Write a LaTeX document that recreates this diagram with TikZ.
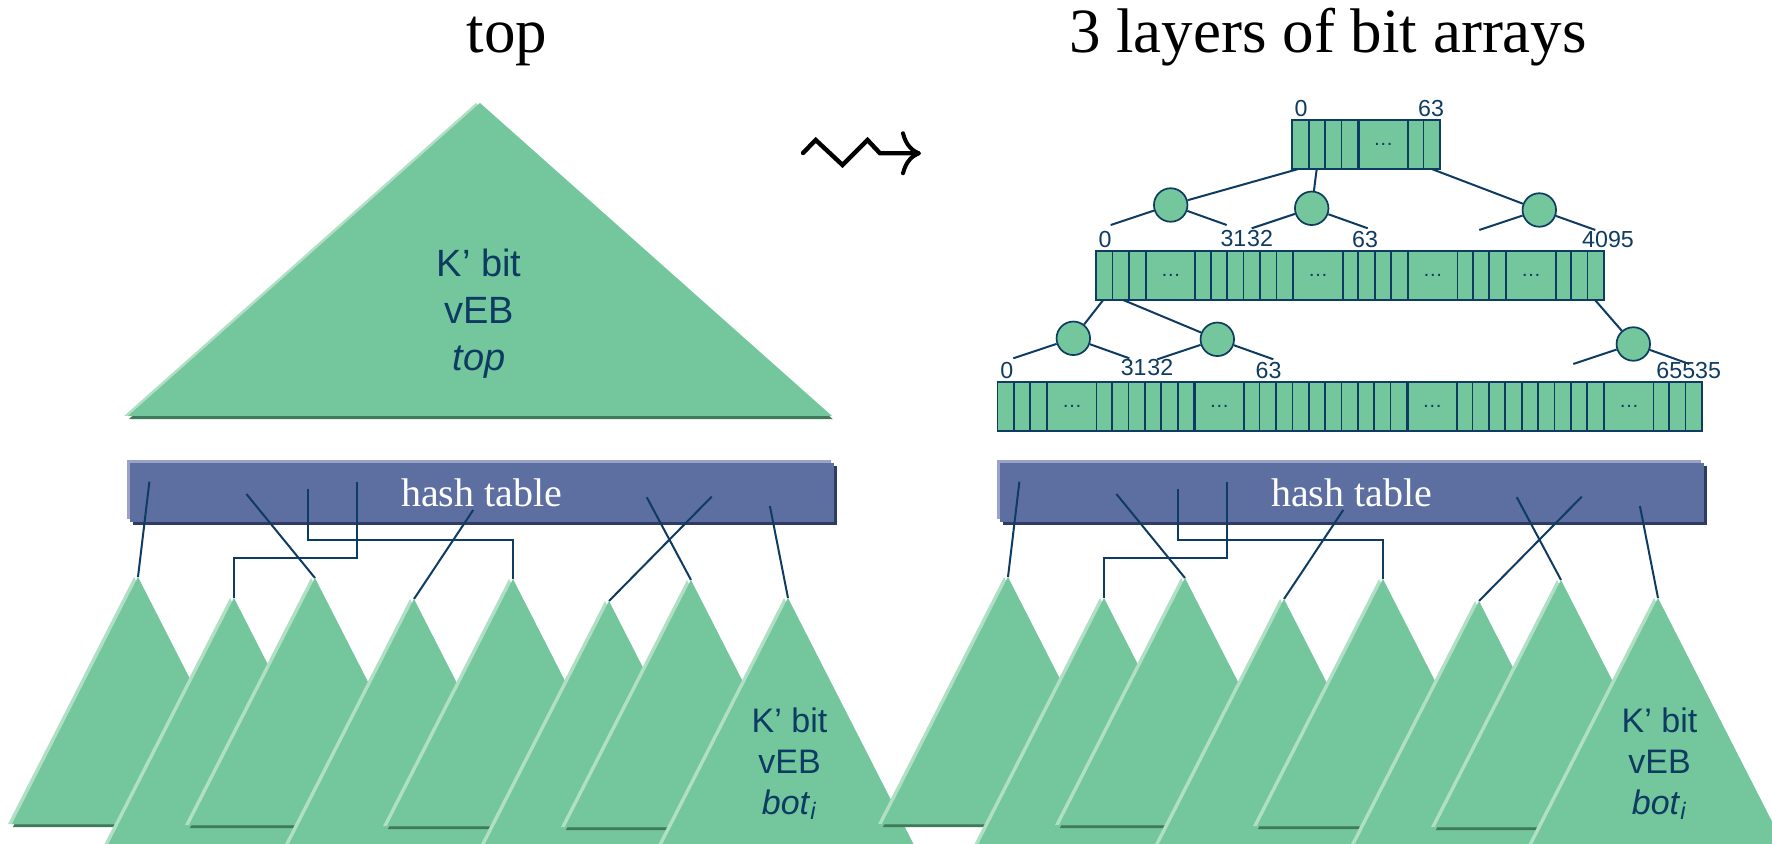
\documentclass[tikz,border=0pt]{standalone}
\usepackage{fontspec}
\setmainfont{Liberation Serif}
\setsansfont{Liberation Sans}
\usetikzlibrary{arrows.meta,calc,shadows}
\definecolor{vebgreen}{HTML}{74C69D}
\definecolor{veblight}{HTML}{B0DFC5}
\definecolor{vebdark}{HTML}{3F7A5A}
\definecolor{navy}{HTML}{0D3B62}
\definecolor{hashblue}{HTML}{5D6FA0}
\definecolor{hashlight}{HTML}{9CA1C8}
\definecolor{hashdark}{HTML}{2E3B62}
\tikzset{link/.style={navy, line width=1pt},
  tri/.style={fill=vebgreen, general shadow={fill=vebdark, shadow xshift=0.4pt, shadow yshift=-1.6pt},
    general shadow={fill=veblight, shadow xshift=-2pt}},
  hashbox/.style={fill=hashblue, minimum width=352.25pt, minimum height=29.5pt, inner sep=0pt, outer sep=0pt,
    text=white, font=\fontsize{20}{24}\selectfont,
    general shadow={fill=hashdark, shadow xshift=1.5pt, shadow yshift=-1.4pt},
    general shadow={fill=hashlight, shadow xshift=-1.4pt, shadow yshift=1.5pt}},
  bits/.style={draw=navy, line width=0.85pt, fill=vebgreen, minimum height=24.5pt, inner sep=0pt, outer sep=0pt, anchor=north west},
  gap/.style={draw=navy, line width=0.85pt, fill=vebgreen, minimum width=24.57pt, minimum height=24.5pt,
    inner sep=0pt, anchor=west, text=navy, font=\sffamily\fontsize{10}{10}\selectfont},
  num/.style={text=navy, font=\sffamily\fontsize{11.6}{12}\selectfont, inner sep=0pt, anchor=base},
  knot/.style={circle, draw=navy, line width=0.85pt, fill=vebgreen, minimum size=16.75pt, inner sep=0pt},
  veb/.style={text=navy, align=center, inner sep=0pt}}
% vertical cell lines of a bit array
\newcommand\cellsplit[2]{%
  \foreach \i in {1,...,#2}
    \draw[link, line width=0.85pt] ($(#1.north west)+(\i*16.38,0)$) -- ($(#1.south west)+(\i*16.38,0)$);}

\begin{document}
\begin{tikzpicture}[x=0.5pt, y=-0.5pt]
  \useasboundingbox (0,0) rectangle (1772,844);
  \node[font=\fontsize{31.5}{36}\selectfont, anchor=base] (title-top) at (507,53) {top};
  \node[font=\fontsize{31.5}{36}\selectfont, anchor=base] (title-bits) at (1328,53) {3 layers of bit arrays};
  \draw[line width=2.2pt, line cap=round, -{Computer Modern Rightarrow[length=10pt,width=22pt,line width=2pt]}]
    (803,153) -- (815.7,140) -- (842.5,165) -- (867.5,140) -- (880,153.3) -- (921,153.3);

  % top tree
  \coordinate (top-apex) at (480,103);
  \fill[tri] (top-apex) -- ++(-352,313) -- ++(704,0) -- cycle;
  \node[veb, font=\sffamily\fontsize{19}{23.5}\selectfont] (toplab) at (479,314) {K’ bit\\vEB\\\textit{top}};

  % hash tables and bottom trees
  \foreach \g/\dx in {L/0,R/870}{
  \begin{scope}[shift={(\dx,0)}]
    \node[hashbox] (hash-\g) at (481.75,492.5) {hash table};
    \foreach \i/\x/\y in {1/138/577,2/234/598,3/315/578,4/414/599,5/513/579,6/609/601,7/691/580,8/788/598}
      \coordinate (bot-\g-\i) at (\x,\y);
    \foreach \i/\p in {1/{19.9,18.7},2/{116.9,31},3/{178.9,26},4/{227.9,18.7},5/{343.7,47},6/{582.2,33.7},7/{517.3,34.3},8/{640.4,43}}
      \coordinate (hs-\g-\i) at ($(hash-\g.north west)+(\p)$);
    \draw[link] (hs-\g-1) -- (bot-\g-1);
    \draw[link] (hs-\g-2) -- (bot-\g-3);
    \draw[link] (hs-\g-3) -- ++(0,51) -| (bot-\g-5);
    \draw[link] (hs-\g-4) -- ++(0,76) -| (bot-\g-2);
    \draw[link] (hs-\g-5) -- (bot-\g-4);
    \draw[link] (hs-\g-6) -- (bot-\g-6);
    \draw[link] (hs-\g-7) -- (bot-\g-7);
    \draw[link] (hs-\g-8) -- (bot-\g-8);
    \foreach \i in {1,...,8}
      \fill[tri] (bot-\g-\i) -- ++(-126,247) -- ++(252,0) -- cycle;
    \node[veb, font=\sffamily\fontsize{17}{20.5}\selectfont] (botlab-\g) at (789.5,763.4)
      {K’ bit\\vEB\\\textit{bot}\textsubscript{\textit{i}}};
  \end{scope}}

  % bit arrays
  \node[bits, minimum width=9*8.19pt] (arr1) at (1292.3,120) {};
  \cellsplit{arr1}{8}
  \node[gap] at ($(arr1.west)+(4*16.38,0)$) {…};
  \node[bits, minimum width=31*8.19pt] (arr2) at (1096.2,251) {};
  \cellsplit{arr2}{30}
  \foreach \s in {3,12,19,25}
    \node[gap] at ($(arr2.west)+(\s*16.38,0)$) {…};
  \node[bits, minimum width=43*8.19pt] (arr3) at (997.5,382) {};
  \cellsplit{arr3}{42}
  \foreach \s in {3,12,25,37}
    \node[gap] at ($(arr3.west)+(\s*16.38,0)$) {…};

  % index labels
  \node[num] (n1-0) at (1301,117) {0};
  \node[num] (n1-63) at (1431,117) {63};
  \node[num] (n2-0) at (1105,248) {0};
  \node[num, anchor=base east] (n2-31) at (1246.7,246.5) {31};
  \node[num, anchor=base west] (n2-32) at (1246.7,246.5) {32};
  \node[num] (n2-63) at (1365,248) {63};
  \node[num] (n2-4095) at (1608,248) {4095};
  \node[num] (n3-0) at (1006.7,378.5) {0};
  \node[num, anchor=base east] (n3-31) at (1147,376) {31};
  \node[num, anchor=base west] (n3-32) at (1147,376) {32};
  \node[num] (n3-63) at (1268.5,378.5) {63};
  \node[num] (n3-65535) at (1688.7,378.5) {65535};

  % summary nodes
  \node[knot] (c1) at (1170.7,205) {};
  \node[knot] (c2) at (1311.7,208.3) {};
  \node[knot] (c3) at (1539.3,210) {};
  \node[knot] (d1) at (1073.3,338.3) {};
  \node[knot] (d2) at (1217.3,339.3) {};
  \node[knot] (d3) at (1633.3,344) {};
  \draw[link] ($(arr1.south west)+(6,0)$) -- (c1);
  \draw[link] ($(arr1.south west)+(24.4,0)$) -- (c2);
  \draw[link] ($(arr1.south west)+(139.4,0)$) -- (c3);
  \draw[link] ($(arr2.south west)+(7,0)$) -- (d1);
  \draw[link] ($(arr2.south west)+(27,0)$) -- (d2);
  \draw[link] ($(arr2.south west)+(498.8,0)$) -- (d3);
  \foreach \c in {c1,c2,c3,d1,d2,d3}{
    \coordinate (\c-l) at ($(\c)+(-60,20)$);
    \coordinate (\c-r) at ($(\c)+(56,20)$);
    \draw[link] (\c) -- (\c-l);
    \draw[link] (\c) -- (\c-r);}
\end{tikzpicture}
\end{document}
